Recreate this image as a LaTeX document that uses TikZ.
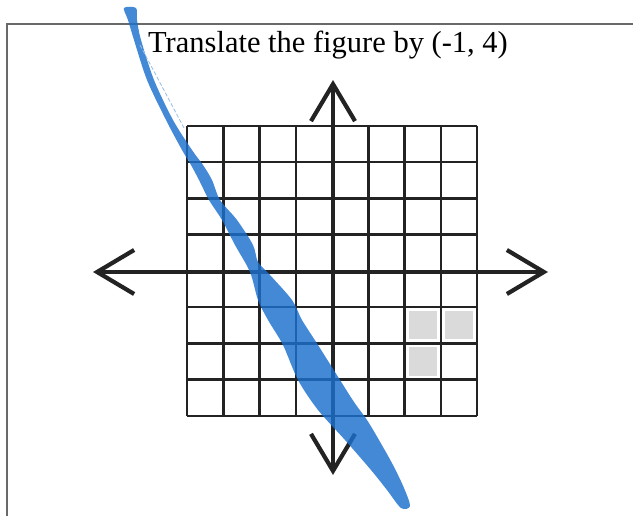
\documentclass[tikz,border=0pt]{standalone}
\usepackage{fontspec}
\setmainfont{Liberation Serif}
\usetikzlibrary{arrows.meta}
\definecolor{pen}{RGB}{28,112,205}
\definecolor{penlight}{RGB}{150,190,230}
\definecolor{cellgray}{RGB}{218,218,218}
\definecolor{framegray}{RGB}{105,105,105}
\definecolor{ink}{RGB}{35,35,35}
\tikzset{
  gridline/.style={line width=2.5pt, draw=ink},
  axisline/.style={line width=4.2pt, draw=ink, line cap=butt,
    {Straight Barb[length=37pt,width=44pt]}-{Straight Barb[length=37pt,width=44pt]}},
  framebar/.style={line width=2.2pt, draw=framegray},
  shadedcell/.style={fill=cellgray, draw=none},
  titletext/.style={font=\fontsize{30.5}{36}\selectfont, anchor=base, inner sep=0pt},
  penstroke/.style={fill=pen, draw=none, opacity=0.82},
}
\begin{document}
\begin{tikzpicture}[x=1pt,y=-1pt]
\useasboundingbox (0,0) rectangle (633,516);
\fill[white] (0,0) rectangle (633,516);
% frame
\coordinate (fTL) at (7,24);
\coordinate (fTR) at (633,24);
\coordinate (fBL) at (7,516);
\draw[framebar] (fBL) -- (fTL) -- (fTR);
% title
\node[titletext] (title) at (328,53) {Translate the figure by (-1, 4)};
% shaded cells
\def\gx{187}\def\gy{126}\def\cs{36.25}
\foreach \c/\r in {6/5,7/5,6/6}{
  \fill[shadedcell] ({\gx+\c*\cs+4},{\gy+\r*\cs+4}) rectangle ({\gx+(\c+1)*\cs-4},{\gy+(\r+1)*\cs-4});
}
% grid
\foreach \i in {0,...,8}{
  \draw[gridline] ({\gx+\i*\cs},\gy) -- ({\gx+\i*\cs},{\gy+8*\cs});
  \draw[gridline] (\gx,{\gy+\i*\cs}) -- ({\gx+8*\cs},{\gy+\i*\cs});
}
% axes
\coordinate (xl) at (93,272);
\coordinate (xr) at (548,272);
\coordinate (yt) at (333,80);
\coordinate (yb) at (333,475);
\draw[axisline] (xl) -- (xr);
\draw[axisline] (yt) -- (yb);
% pen stroke
\fill[penstroke] plot[smooth cycle, tension=0.5] coordinates {
 (124,8) (128,20) (134,40) (147,80) (166,120) (182,150) (191,165) (199,180)
 (209,200) (222,220) (235,245) (250,272) (258,300) (268,320) (283,345)
 (298,380) (318,410) (345,440) (371,470) (387,490) (401,508)
 (410,506) (404,488) (393,465) (379,440) (367,420) (354,402) (340,380) (318,345)
 (302,320) (292,300) (270,275) (258,262) (253,245) (237,220) (220,200) (212,180)
 (203,165) (192,150) (173,120) (154,80) (141,40) (137,20) (136,8)};
\draw[penlight, line width=0.8pt, dashed, dash pattern=on 4pt off 2pt] (140,45) -- (184,128);
\end{tikzpicture}
\end{document}
